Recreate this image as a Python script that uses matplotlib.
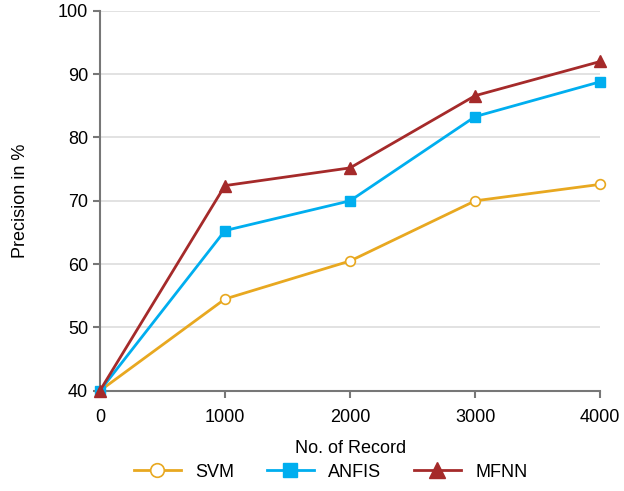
import matplotlib
matplotlib.use("Agg")
import matplotlib.pyplot as plt

records = [0, 1000, 2000, 3000, 4000]
svm = [40, 54.5, 60.5, 70.0, 72.6]
anfis = [40, 65.3, 70.0, 83.3, 88.8]
mfnn = [40, 72.4, 75.2, 86.6, 92.0]

plt.rcParams['font.family'] = ['Liberation Sans', 'DejaVu Sans']

fig = plt.figure(figsize=(6.24, 4.91), dpi=100)
ax = fig.add_axes([0.160, 0.204, 0.802, 0.774])

ax.plot(records, svm, color='#E8A820', lw=2, marker='o', ms=7, mfc='white', mec='#E8A820', mew=1.2, label='SVM', zorder=3)
ax.plot(records, anfis, color='#00AEEF', lw=2, marker='s', ms=7, label='ANFIS', zorder=4)
ax.plot(records, mfnn, color='#A52A2A', lw=2, marker='^', ms=8, label='MFNN', zorder=5)

ax.set_xlim(0, 4000)
ax.set_ylim(40, 100)
ax.set_xticks(records)
ax.set_yticks([40, 50, 60, 70, 80, 90, 100])
ax.yaxis.grid(True, color='#DDDDDD', lw=1.2)
ax.set_axisbelow(True)
for s in ['top', 'right']:
    ax.spines[s].set_visible(False)
for s in ['left', 'bottom']:
    ax.spines[s].set_color('#777777')
    ax.spines[s].set_linewidth(1.5)
ax.tick_params(colors='#777777', width=1.5, length=5, labelsize=13, labelcolor='black')
ax.tick_params(axis='x', pad=8)
ax.set_xlabel('No. of Record', fontsize=13, labelpad=10)
ax.set_ylabel('Precision in %', fontsize=13, labelpad=21)
for sp in ax.spines.values():
    sp.set_clip_on(False)
for l in ax.lines:
    l.set_clip_on(False)

fig.legend(loc='lower center', bbox_to_anchor=(0.53, -0.012), ncol=3, frameon=False, fontsize=13,
           handlelength=2.6, columnspacing=1.8, markerscale=1.4)
fig.savefig('out.png', dpi=100)
